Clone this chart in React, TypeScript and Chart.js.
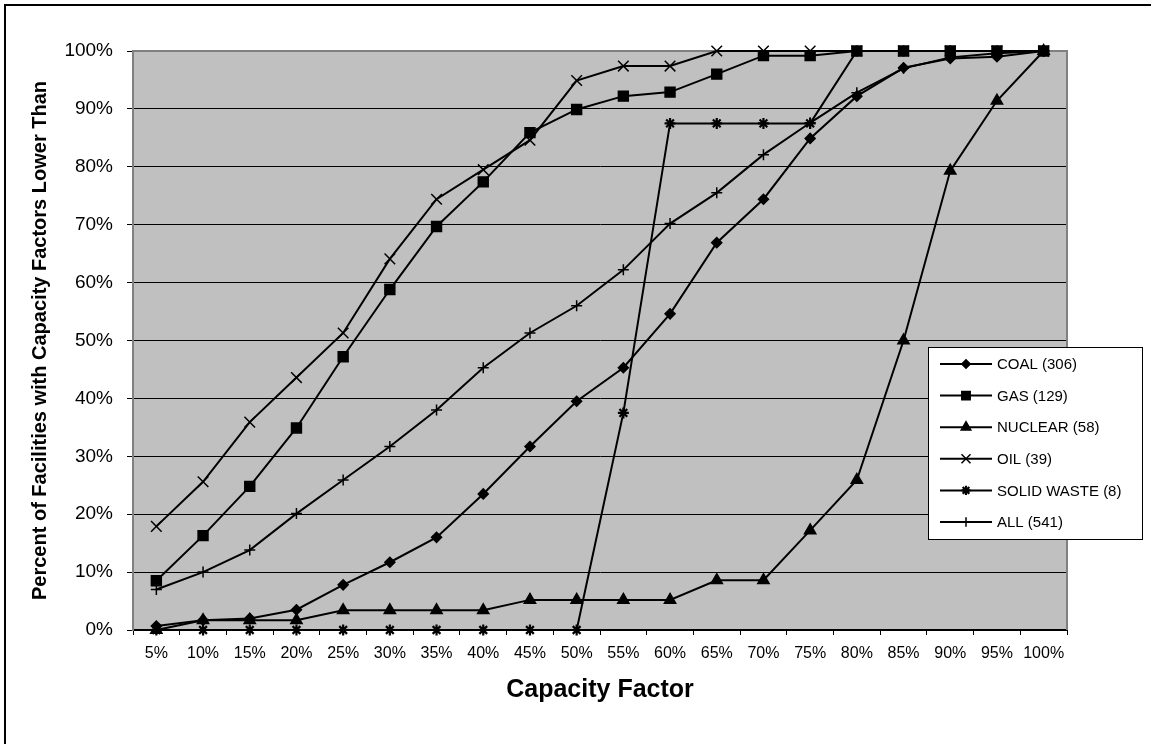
import React, { useEffect, useRef } from "react";
import { Chart, registerables } from "chart.js";
import { drawPoint } from "chart.js/helpers";

Chart.register(...registerables);

const categories = ["5%", "10%", "15%", "20%", "25%", "30%", "35%", "40%", "45%", "50%", "55%", "60%", "65%", "70%", "75%", "80%", "85%", "90%", "95%", "100%"];
const coal = [0.7, 1.7, 2.0, 3.5, 7.8, 11.7, 16.0, 23.5, 31.7, 39.5, 45.3, 54.6, 66.9, 74.4, 84.9, 92.2, 97.1, 98.7, 99.0, 100];
const gas = [8.5, 16.3, 24.8, 34.9, 47.2, 58.8, 69.7, 77.4, 85.9, 89.9, 92.2, 92.9, 96.0, 99.2, 99.2, 100, 100, 100, 100, 100];
const nuclear = [0, 1.7, 1.7, 1.7, 3.4, 3.4, 3.4, 3.4, 5.2, 5.2, 5.2, 5.2, 8.6, 8.6, 17.2, 25.9, 50.0, 79.3, 91.4, 100];
const oil = [17.9, 25.6, 35.9, 43.6, 51.3, 64.1, 74.4, 79.5, 84.6, 94.9, 97.4, 97.4, 100, 100, 100, 100, 100, 100, 100, 100];
const solidWaste = [0, 0, 0, 0, 0, 0, 0, 0, 0, 0, 37.5, 87.5, 87.5, 87.5, 87.5, 100, 100, 100, 100, 100];
const all = [7.0, 10.0, 13.8, 20.1, 25.9, 31.7, 38.0, 45.3, 51.3, 56.0, 62.2, 70.2, 75.5, 82.1, 87.6, 92.8, 97.0, 98.9, 99.6, 100];

const seriesLabels = ["COAL (306)", "GAS (129)", "NUCLEAR (58)", "OIL (39)", "SOLID WASTE (8)", "ALL (541)"];
const yTitle = "Percent of Facilities with Capacity Factors Lower Than";
const xTitle = "Capacity Factor";

const FONT = "'Liberation Sans', Arial, sans-serif";

const plotBg = {
  id: "plotBg",
  beforeDraw(chart: any) {
    const { ctx, chartArea: a } = chart;
    ctx.save();
    ctx.fillStyle = "#000";
    ctx.fillRect(4, 4, 2, chart.height);
    ctx.fillRect(4, 4, chart.width, 2);
    ctx.fillStyle = "#C0C0C0";
    ctx.fillRect(a.left, a.top, a.right - a.left, a.bottom - a.top);
    ctx.restore();
  },
  beforeDatasetsDraw(chart: any) {
    const { ctx, chartArea: a } = chart;
    ctx.save();
    ctx.strokeStyle = "#808080";
    ctx.lineWidth = 2;
    ctx.beginPath();
    ctx.moveTo(a.left, a.top);
    ctx.lineTo(a.right, a.top);
    ctx.lineTo(a.right, a.bottom);
    ctx.stroke();
    ctx.restore();
  },
};

const customLegend = {
  id: "customLegend",
  afterDraw(chart: any) {
    const { ctx } = chart;
    const left = 928, top = 347, right = 1142, bottom = 539;
    ctx.save();
    ctx.fillStyle = "#fff";
    ctx.fillRect(left, top, right - left, bottom - top);
    ctx.strokeStyle = "#000";
    ctx.lineWidth = 1;
    ctx.strokeRect(left + 0.5, top + 0.5, right - left, bottom - top);
    const n = chart.data.datasets.length;
    const step = (bottom - top - 34) / (n - 1);
    chart.data.datasets.forEach((ds: any, i: number) => {
      const y = top + 17 + i * step;
      ctx.strokeStyle = "#000";
      ctx.lineWidth = 2;
      ctx.beginPath();
      ctx.moveTo(940, y);
      ctx.lineTo(992, y);
      ctx.stroke();
      ctx.fillStyle = "#000";
      ctx.strokeStyle = "#000";
      ctx.lineWidth = ds.pointBorderWidth;
      drawPoint(ctx, { pointStyle: ds.pointStyle, radius: ds.pointRadius * 0.85, rotation: 0, borderWidth: ds.pointBorderWidth }, 966, y);
      ctx.fillStyle = "#000";
      ctx.font = `15px ${FONT}`;
      ctx.textBaseline = "middle";
      ctx.textAlign = "left";
      ctx.fillText(ds.label, 997, y + 1);
    });
    ctx.restore();
  },
};

export default function App() {
  const ref = useRef<HTMLCanvasElement>(null);
  useEffect(() => {
    document.body.style.margin = "0";
    const mk = (label: string, data: number[], pointStyle: string, r: number, bw = 1.5) => ({
      label,
      data,
      borderColor: "#000",
      backgroundColor: "#000",
      borderWidth: 2,
      pointStyle,
      pointRadius: r,
      pointBackgroundColor: "#000",
      pointBorderColor: "#000",
      pointBorderWidth: bw,
      tension: 0,
      clip: 10,
    });
    const chart = new Chart(ref.current!, {
      type: "line",
      data: {
        labels: categories,
        datasets: [
          mk(seriesLabels[0], coal, "rectRot", 5),
          mk(seriesLabels[1], gas, "rect", 7),
          mk(seriesLabels[2], nuclear, "triangle", 6.5),
          mk(seriesLabels[3], oil, "crossRot", 7.5),
          mk(seriesLabels[4], solidWaste, "star", 5.5, 2.2),
          mk(seriesLabels[5], all, "cross", 5.5),
        ] as any,
      },
      options: {
        responsive: false,
        animation: false,
        devicePixelRatio: 1,
        layout: { padding: { left: 0, top: 51, right: 84, bottom: 0 } },
        plugins: { legend: { display: false }, tooltip: { enabled: false } },
        scales: {
          x: {
            type: "category",
            offset: true,
            grid: { offset: true, drawOnChartArea: false, drawTicks: true, tickLength: 5, tickColor: "#000", lineWidth: 1 },
            border: { display: true, color: "#000", width: 2 },
            ticks: { color: "#000", font: { family: FONT, size: 16 }, maxRotation: 0, minRotation: 0, autoSkip: false, padding: 9 },
            title: { display: true, text: xTitle, color: "#000", font: { family: FONT, size: 25, weight: "bold" }, padding: { top: 0, bottom: 39 } },
            afterFit: (s: any) => { s.height = 114; },
          },
          y: {
            min: 0,
            max: 100,
            ticks: { stepSize: 10, color: "#000", font: { family: FONT, size: 19 }, padding: 14, callback: (v: any) => v + "%" },
            grid: {
              color: (c: any) => (c.tick && c.tick.value === 100 ? "#808080" : "#000"),
              lineWidth: 1,
              tickLength: 6,
              tickColor: "#000",
            },
            border: { display: true, color: "#808080", width: 2 },
            title: { display: true, text: yTitle, color: "#000", font: { family: FONT, size: 20, weight: "bold" }, padding: { top: 28, bottom: 0 } },
            afterFit: (s: any) => { s.width = 133; },
          },
        },
      } as any,
      plugins: [plotBg, customLegend],
    });
    return () => chart.destroy();
  }, []);
  return <canvas ref={ref} width={1151} height={744} style={{ display: "block" }} />;
}
